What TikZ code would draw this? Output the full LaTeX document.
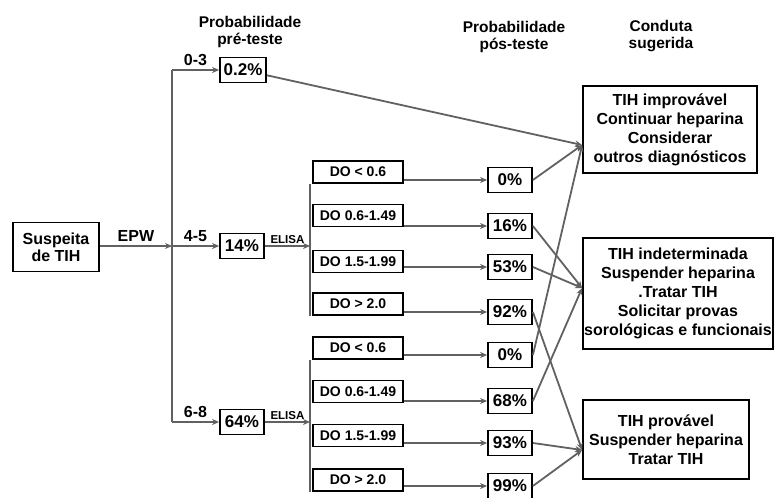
\documentclass[tikz,border=0pt]{standalone}
\usepackage{fontspec}
\setmainfont{Liberation Sans}
\usetikzlibrary{arrows.meta}

\begin{document}
\begin{tikzpicture}[x=1pt,y=-1pt,
    box/.style={draw=black,line width=1.8pt,inner sep=0pt,align=center,font=\bfseries\fontsize{16}{17}\selectfont},
    pctbox/.style={box,minimum width=44pt,minimum height=25pt,font=\bfseries\fontsize{17}{18}\selectfont},
    dobox/.style={box,minimum width=90pt,minimum height=22pt,font=\bfseries\fontsize{14}{15}\selectfont},
    condbox/.style={box,font=\bfseries\fontsize{16}{19}\selectfont},
    head/.style={align=center,font=\bfseries\fontsize{15.5}{17}\selectfont},
    lab/.style={font=\bfseries\fontsize{16}{17}\selectfont},
    elisa/.style={font=\bfseries\fontsize{11.5}{12}\selectfont,inner sep=1pt},
    conn/.style={draw=black!62,line width=1.8pt},
    arr/.style={conn,-{Stealth[length=7pt,width=6pt]}}]
	\useasboundingbox (0,0) rectangle (774,498);
	% column titles
	\node [head] (hpre) at (250,32) {Probabilidade\\pré-teste};
	\node [head] (hpos) at (514,37) {Probabilidade\\pós-teste};
	\node [head] (hcond) at (661,36) {Conduta\\sugerida};
	% start and pre-test
	\node [box,minimum width=86pt,minimum height=49pt] (susp) at (56,247) {Suspeita\\de TIH};
	\coordinate (trunk) at (172,246);
	\node [pctbox,minimum width=46pt] (pre1) at (243,70) {0.2\%};
	\node [pctbox] (pre2) at (242,246) {14\%};
	\node [pctbox] (pre3) at (242,422) {64\%};
	\draw [arr] (susp.east |- trunk) -- node [lab,above] {EPW} (trunk);
	\draw [conn] (trunk |- pre1) -- (trunk |- pre3);
	\draw [arr] (trunk |- pre1) -- node [lab,above] {0-3} (pre1);
	\draw [arr] (trunk) -- node [lab,above] {4-5} (pre2);
	\draw [arr] (trunk |- pre3) -- node [lab,above] {6-8} (pre3);
	% ELISA results
	\coordinate (bar1) at (310,246);
	\coordinate (bar2) at (310,422);
	\node [dobox] (do1) at (358,172) {DO < 0.6};
	\node [dobox] (do2) at (358,215.5) {DO 0.6-1.49};
	\node [dobox] (do3) at (358,261.5) {DO 1.5-1.99};
	\node [dobox] (do4) at (358,304) {DO > 2.0};
	\node [dobox] (do5) at (358,348) {DO < 0.6};
	\node [dobox] (do6) at (358,391.5) {DO 0.6-1.49};
	\node [dobox] (do7) at (358,435.5) {DO 1.5-1.99};
	\node [dobox] (do8) at (358,480) {DO > 2.0};
	\draw [arr] (pre2) -- node [elisa,above] {ELISA} (bar1);
	\draw [arr] (pre3) -- node [elisa,above] {ELISA} (bar2);
	\draw [conn] (bar1 |- do1.south) -- (bar1 |- do4.south);
	\draw [conn] (bar2 |- do5.south) -- (bar2 |- do8.south);
	% post-test
	\node [pctbox] (p1) at (510,180) {0\%};
	\node [pctbox] (p2) at (510,226) {16\%};
	\node [pctbox] (p3) at (510,267) {53\%};
	\node [pctbox] (p4) at (510,312) {92\%};
	\node [pctbox] (p5) at (510,355) {0\%};
	\node [pctbox] (p6) at (510,401) {68\%};
	\node [pctbox] (p7) at (510,443) {93\%};
	\node [pctbox] (p8) at (510,486) {99\%};
	\draw [arr] (do1.east |- p1) -- (p1);
	\draw [arr] (do2.east |- p2) -- (p2);
	\draw [arr] (do3.east |- p3) -- (p3);
	\draw [arr] (do4.east |- p4) -- (p4);
	\draw [arr] (do5.east |- p5) -- (p5);
	\draw [arr] (do6.east |- p6) -- (p6);
	\draw [arr] (do7.east |- p7) -- (p7);
	\draw [arr] (do8.east |- p8) -- (p8);
	% suggested conduct
	\node [condbox,minimum width=174pt,minimum height=87pt] (cond1) at (670,129.5) {TIH improvável\\Continuar heparina\\Considerar\\outros diagnósticos};
	\node [condbox,minimum width=190pt,minimum height=111pt] (cond2) at (678,293.5) {TIH indeterminada\\Suspender heparina\\.Tratar TIH\\Solicitar provas\\sorológicas e funcionais};
	\node [condbox,minimum width=166pt,minimum height=79pt] (cond3) at (666,439.5) {TIH provável\\Suspender heparina\\Tratar TIH};
	\coordinate (in1) at ([yshift=-15.5pt]cond1.west);
	\coordinate (in2) at ([yshift=5.5pt]cond2.west);
	\coordinate (in3) at ([yshift=-10.5pt]cond3.west);
	\draw [arr] (pre1) -- (in1);
	\draw [arr] (p1.east) -- (in1);
	\draw [arr] (p5.east) -- (in1);
	\draw [arr] (p2.east) -- (in2);
	\draw [arr] (p3.east) -- (in2);
	\draw [arr] (p6.east) -- (in2);
	\draw [arr] (p4.east) -- (in3);
	\draw [arr] (p7.east) -- (in3);
	\draw [arr] (p8.east) -- (in3);
    \end{tikzpicture}
\end{document}
